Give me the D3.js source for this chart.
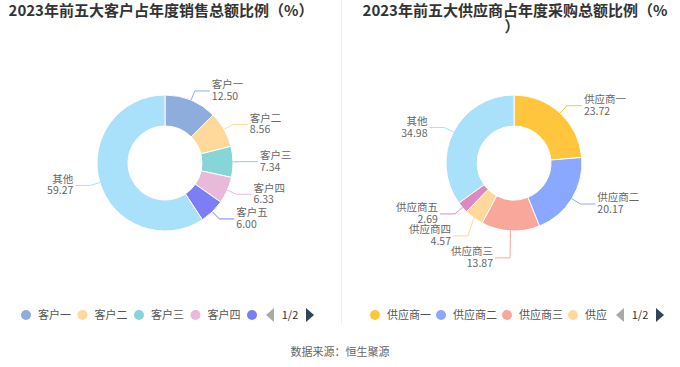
<!DOCTYPE html>
<html>
<head>
<meta charset="utf-8">
<script src="https://cdn.jsdelivr.net/npm/d3@7/dist/d3.min.js"></script>
<style>
  body { margin: 0; background: #fff; }
  svg { display: block; font-family: "Noto Sans CJK SC", "Noto Sans", sans-serif; }
</style>
</head>
<body>
<div id="chart"></div>
<script>
// data (percent)
var customerNames = ["客户一", "客户二", "客户三", "客户四", "客户五", "其他"];
var customerValues = [12.50, 8.56, 7.34, 6.33, 6.00, 59.27];
var customerColors = ["#8eaddc", "#ffd99b", "#86d5d8", "#e9b9da", "#7b7ef5", "#a9e0fa"];

var supplierNames = ["供应商一", "供应商二", "供应商三", "供应商四", "供应商五", "其他"];
var supplierValues = [23.72, 20.17, 13.87, 4.57, 2.69, 34.98];
var supplierColors = ["#ffc53d", "#8aa8ff", "#f9a79a", "#ffd99b", "#dc89c2", "#a9e0fa"];

// legend page 1 shows only these
var customerLegend = ["客户一", "客户二", "客户三", "客户四", ""];
var supplierLegend = ["供应商一", "供应商二", "供应商三", "供应"];

var width = 680, height = 367;

var svg = d3.select("#chart").append("svg")
    .attr("width", width)
    .attr("height", height);

// divider between the two panels
svg.append("line")
    .attr("x1", 341.5).attr("x2", 341.5)
    .attr("y1", 0).attr("y2", 325)
    .attr("stroke", "#efefef");

function donut(g, names, values, colors, cx, cy) {
    var rOuter = 68, rInner = 37;
    var pie = d3.pie().sort(null).value(d => d)(values);
    var arc = d3.arc().innerRadius(rInner).outerRadius(rOuter);

    var p = g.append("g").attr("transform", "translate(" + cx + "," + cy + ")");

    p.selectAll("path")
        .data(pie)
        .enter()
        .append("path")
        .attr("d", arc)
        .attr("fill", (d, i) => colors[i])
        .attr("stroke", "#fff")
        .attr("stroke-width", 1);

    // label positions, then push apart on each side
    var labels = pie.map(function(d, i) {
        var a = (d.startAngle + d.endAngle) / 2;
        return {
            i: i,
            a: a,
            x0: Math.sin(a) * rOuter,
            y0: -Math.cos(a) * rOuter,
            x1: Math.sin(a) * (rOuter + 10),
            y1: -Math.cos(a) * (rOuter + 10),
            right: Math.sin(a) >= 0
        };
    });
    [true, false].forEach(function(side) {
        var s = labels.filter(l => l.right === side).sort((a, b) => a.y1 - b.y1);
        for (var k = 1; k < s.length; k++) {
            if (s[k].y1 - s[k - 1].y1 < 22) s[k].y1 = s[k - 1].y1 + 22;
        }
    });

    labels.forEach(function(l) {
        var dir = l.right ? 1 : -1;
        var x2 = l.x1 + dir * 15;
        p.append("polyline")
            .attr("points", [[l.x0, l.y0], [l.x1, l.y1], [x2, l.y1]].map(q => q.join(",")).join(" "))
            .attr("fill", "none")
            .attr("stroke", colors[l.i])
            .attr("stroke-width", 1);
        var t = p.append("text")
            .attr("x", x2 + dir * 2)
            .attr("y", l.y1)
            .attr("text-anchor", l.right ? "start" : "end")
            .attr("font-size", 10.5)
            .attr("fill", "#666");
        t.append("tspan").attr("x", x2 + dir * 2).attr("dy", -2.5).text(names[l.i]);
        t.append("tspan").attr("x", x2 + dir * 2).attr("dy", 11.5).text(values[l.i].toFixed(2));
    });
}

function legend(g, items, colors, x0, step, y, arrowX) {
    items.forEach(function(name, i) {
        var x = x0 + i * step;
        g.append("circle")
            .attr("cx", x).attr("cy", y).attr("r", 5)
            .attr("fill", colors[i]);
        if (name) {
            g.append("text")
                .attr("x", x + 12).attr("y", y + 4)
                .attr("font-size", 11)
                .attr("fill", "#555")
                .text(name);
        }
    });
    // page arrows
    g.append("path")
        .attr("d", "M" + (arrowX + 4) + "," + (y - 7) + "L" + (arrowX - 4) + "," + y + "L" + (arrowX + 4) + "," + (y + 7) + "Z")
        .attr("fill", "#aaa");
    g.append("text")
        .attr("x", arrowX + 20).attr("y", y + 4)
        .attr("text-anchor", "middle")
        .attr("font-size", 11)
        .attr("fill", "#333")
        .text("1/2");
    g.append("path")
        .attr("d", "M" + (arrowX + 36) + "," + (y - 7) + "L" + (arrowX + 44) + "," + y + "L" + (arrowX + 36) + "," + (y + 7) + "Z")
        .attr("fill", "#2f4554");
}

// titles
svg.append("text")
    .attr("x", 161).attr("y", 16)
    .attr("text-anchor", "middle")
    .attr("font-size", 15).attr("font-weight", "bold")
    .attr("fill", "#333")
    .text("2023年前五大客户占年度销售总额比例（%）");
svg.append("text")
    .attr("x", 515).attr("y", 16)
    .attr("text-anchor", "middle")
    .attr("font-size", 15).attr("font-weight", "bold")
    .attr("fill", "#333")
    .text("2023年前五大供应商占年度采购总额比例（%");
svg.append("text")
    .attr("x", 512).attr("y", 32)
    .attr("text-anchor", "middle")
    .attr("font-size", 15).attr("font-weight", "bold")
    .attr("fill", "#333")
    .text("）");

donut(svg, customerNames, customerValues, customerColors, 165, 163);
donut(svg, supplierNames, supplierValues, supplierColors, 514, 163);

legend(svg, customerLegend, customerColors, 26, 56.5, 315, 270);
legend(svg, supplierLegend, supplierColors, 375, 66, 315, 620);

svg.append("text")
    .attr("x", 340).attr("y", 356)
    .attr("text-anchor", "middle")
    .attr("font-size", 11)
    .attr("fill", "#666")
    .text("数据来源：恒生聚源");
</script>
</body>
</html>
